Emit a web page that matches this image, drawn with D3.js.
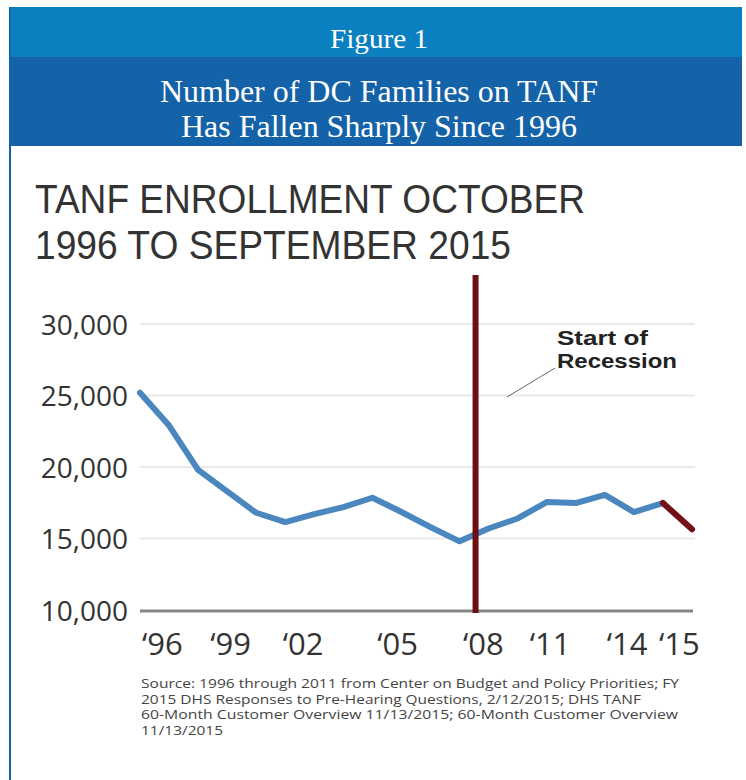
<!DOCTYPE html>
<html>
<head>
<meta charset="utf-8">
<script src="https://cdn.jsdelivr.net/npm/d3@7"></script>
<style>
  html, body { margin: 0; padding: 0; background: #fff; }
  svg { display: block; }
</style>
</head>
<body>
<svg id="chart" width="746" height="780"></svg>
<script>
// ---------- data ----------
const years = [1996, 1997, 1998, 1999, 2000, 2001, 2002, 2003, 2004, 2005,
               2006, 2007, 2008, 2009, 2010, 2011, 2012, 2013, 2014, 2015];
const families = [25200, 22900, 19800, 18300, 16800, 16150, 16700, 17200, 17850, 16850,
                  15800, 14800, 15700, 16400, 17550, 17480, 18050, 16850, 17480, 15650];
const highlightFrom = 2014;           // last segment drawn in dark red
const recessionStart = 2007.55;       // vertical marker
const yTicks = [10000, 15000, 20000, 25000, 30000];
const xTickLabels = ["\u201896", "\u201899", "\u201802", "\u201805", "\u201808", "\u201811", "\u201814", "\u201815"];
const xTickValues = [1996.75, 1999.1, 2001.6, 2004.85, 2007.8, 2010.1, 2012.75, 2014.55];
const figureLabel = "Figure 1";
const headline = ["Number of DC Families on TANF", "Has Fallen Sharply Since 1996"];
const chartTitle = ["TANF ENROLLMENT OCTOBER", "1996 TO SEPTEMBER 2015"];
const annotation = ["Start of", "Recession"];
const sourceLines = [
  "Source: 1996 through 2011 from Center on Budget and Policy Priorities; FY",
  "2015 DHS Responses to Pre-Hearing Questions, 2/12/2015; DHS TANF",
  "60-Month Customer Overview 11/13/2015; 60-Month Customer Overview",
  "11/13/2015"
];

// ---------- drawing ----------
const svg = d3.select("#chart");
const sans = "'Open Sans', 'Noto Sans', sans-serif";
const narrow = "'Liberation Sans Narrow', 'Liberation Sans', Arial, sans-serif";
const serif = "'Liberation Serif', 'DejaVu Serif', serif";

// header bands
svg.append("rect").attr("x", 9).attr("y", 7).attr("width", 733).attr("height", 50).attr("fill", "#0b80c1");
svg.append("rect").attr("x", 9).attr("y", 57).attr("width", 733).attr("height", 89).attr("fill", "#1462a8");
// left border
svg.append("rect").attr("x", 9).attr("y", 7).attr("width", 2).attr("height", 773).attr("fill", "#1462a8");

svg.append("text").attr("x", 379).attr("y", 48).attr("text-anchor", "middle")
  .attr("font-family", serif).attr("font-size", 27).attr("fill", "#fff")
  .attr("textLength", 98).attr("lengthAdjust", "spacingAndGlyphs")
  .text(figureLabel);

const headW = [438, 396];
headline.forEach((t, i) => {
  svg.append("text").attr("x", 379).attr("y", 102 + i * 35).attr("text-anchor", "middle")
    .attr("font-family", serif).attr("font-size", 31).attr("fill", "#fff")
    .attr("textLength", headW[i]).attr("lengthAdjust", "spacingAndGlyphs")
    .text(t);
});

// chart title
const titleW = [550, 476];
chartTitle.forEach((t, i) => {
  svg.append("text").attr("x", 35).attr("y", 213 + i * 46)
    .attr("font-family", narrow).attr("font-size", 40).attr("fill", "#333")
    .attr("textLength", titleW[i]).attr("lengthAdjust", "spacingAndGlyphs")
    .text(t);
});

// scales
const x = d3.scaleLinear().domain([1996, 2015]).range([140, 692]);
const y = d3.scaleLinear().domain([10000, 30000]).range([610, 324]);

// gridlines
const g = svg.append("g");
g.selectAll("line.grid").data(yTicks.filter(d => d > 10000)).join("line")
  .attr("class", "grid")
  .attr("x1", 140).attr("x2", 695)
  .attr("y1", d => y(d)).attr("y2", d => y(d))
  .attr("stroke", "#e9e9e9").attr("stroke-width", 2);

// y axis labels
const yAxis = d3.axisLeft(y).tickValues(yTicks).tickFormat(d3.format(",")).tickSize(0).tickPadding(12);
const ya = svg.append("g").attr("transform", "translate(140,0)").call(yAxis);
ya.select(".domain").remove();
ya.selectAll("text").attr("font-family", sans).attr("font-size", 28).attr("fill", "#333")
  .attr("dy", "0.36em");

// baseline axis line
svg.append("line").attr("x1", 140).attr("x2", 693).attr("y1", y(10000) + 1).attr("y2", y(10000) + 1)
  .attr("stroke", "#858585").attr("stroke-width", 3);

// x axis labels
const xAxis = d3.axisBottom(x).tickValues(xTickValues)
  .tickFormat((d, i) => xTickLabels[i]).tickSize(0).tickPadding(0);
const xa = svg.append("g").attr("transform", `translate(0,${y(10000)})`).call(xAxis);
xa.select(".domain").remove();
xa.selectAll("text").attr("font-family", sans).attr("font-size", 31).attr("fill", "#333")
  .attr("dy", null).attr("y", 45);

// line
const pts = years.map((yr, i) => ({ yr, v: families[i] }));
const line = d3.line().x(d => x(d.yr)).y(d => y(d.v));
svg.append("path").datum(pts.filter(d => d.yr <= highlightFrom))
  .attr("d", line).attr("fill", "none").attr("stroke", "#4a87bf")
  .attr("stroke-width", 6).attr("stroke-linejoin", "round").attr("stroke-linecap", "round");
svg.append("path").datum(pts.filter(d => d.yr >= highlightFrom))
  .attr("d", line).attr("fill", "none").attr("stroke", "#750f17")
  .attr("stroke-width", 6).attr("stroke-linecap", "round");

// recession marker
svg.append("line").attr("x1", x(recessionStart)).attr("x2", x(recessionStart))
  .attr("y1", 275).attr("y2", 613)
  .attr("stroke", "#6e0f14").attr("stroke-width", 6);

// annotation
svg.append("line").attr("x1", 555).attr("y1", 368).attr("x2", 507).attr("y2", 397)
  .attr("stroke", "#666").attr("stroke-width", 1);
const annW = [91, 120];
annotation.forEach((t, i) => {
  svg.append("text").attr("x", 557).attr("y", 345 + i * 23)
    .attr("font-family", "'Liberation Sans', Arial, sans-serif").attr("font-weight", "bold")
    .attr("font-size", 20).attr("fill", "#222")
    .attr("textLength", annW[i]).attr("lengthAdjust", "spacingAndGlyphs")
    .text(t);
});

// source
const srcW = [538, 500, 537, 82];
sourceLines.forEach((t, i) => {
  svg.append("text").attr("x", 141).attr("y", 688 + i * 15.7)
    .attr("font-family", sans).attr("font-size", 12.5).attr("fill", "#444")
    .attr("textLength", srcW[i]).attr("lengthAdjust", "spacingAndGlyphs")
    .text(t);
});
</script>
</body>
</html>
